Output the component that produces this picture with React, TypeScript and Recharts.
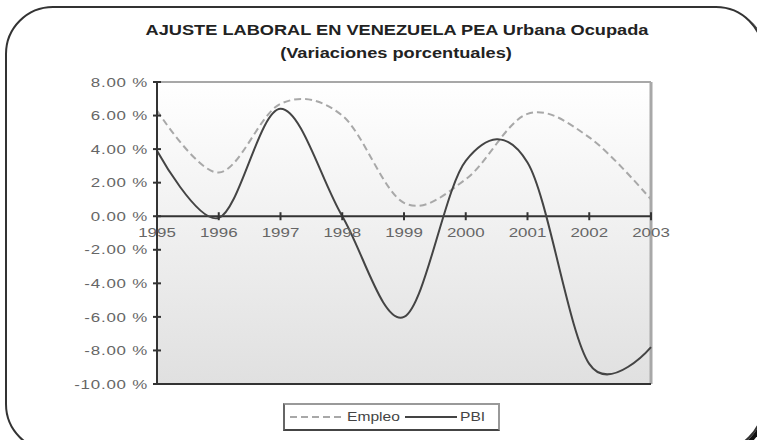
import {
  CartesianGrid,
  Line,
  LineChart,
  ReferenceDot,
  ReferenceLine,
  XAxis,
  YAxis,
} from "recharts";

const years = [1995, 1996, 1997, 1998, 1999, 2000, 2001, 2002, 2003];
const empleo = [6.3, 2.6, 6.7, 6.0, 0.8, 2.2, 6.1, 4.7, 1.0];
const pbi = [3.9, -0.1, 6.4, 0.0, -6.0, 3.3, 3.2, -8.8, -7.8];
const yTicks = [-10, -8, -6, -4, -2, 0, 2, 4, 6, 8];

const data = years.map((year, i) => ({ year, empleo: empleo[i], pbi: pbi[i] }));

const FONT = '"Liberation Sans", Arial, sans-serif';
const STRETCH = 1.3;

// Excel-like smoothing (catmull-rom / cardinal with tension 0)
function smoothCurve(context: any) {
  const k = 1 / 6;
  let x0 = NaN, y0 = NaN, x1 = NaN, y1 = NaN, x2 = NaN, y2 = NaN;
  let pt = 0;
  let line = NaN;
  const bez = (x: number, y: number) => {
    context.bezierCurveTo(
      x1 + k * (x2 - x0),
      y1 + k * (y2 - y0),
      x2 + k * (x1 - x),
      y2 + k * (y1 - y),
      x2,
      y2
    );
  };
  return {
    areaStart() {
      line = 0;
    },
    areaEnd() {
      line = NaN;
    },
    lineStart() {
      x0 = x1 = x2 = y0 = y1 = y2 = NaN;
      pt = 0;
    },
    lineEnd() {
      if (pt === 2) context.lineTo(x2, y2);
      else if (pt === 3) bez(x1, y1);
      if (line || (line !== 0 && pt === 1)) context.closePath();
      line = 1 - line;
    },
    point(x: number, y: number) {
      x = +x;
      y = +y;
      switch (pt) {
        case 0:
          pt = 1;
          if (line) context.lineTo(x, y);
          else context.moveTo(x, y);
          break;
        case 1:
          pt = 2;
          x1 = x;
          y1 = y;
          break;
        case 2:
          pt = 3;
          bez(x, y);
          break;
        default:
          bez(x, y);
          break;
      }
      x0 = x1;
      x1 = x2;
      x2 = x;
      y0 = y1;
      y1 = y2;
      y2 = y;
    },
  };
}

const pct = (v: number) => `${v.toFixed(2)} %`;

function YTick(props: any) {
  const { x, y, payload } = props;
  return (
    <g>
      <line x1={x - 4} x2={x + 4} y1={y} y2={y} stroke="#333" strokeWidth={2} />
      <text
        transform={`translate(${x - 9},${y}) scale(${STRETCH},1)`}
        textAnchor="end"
        dy="0.36em"
        fontSize={13}
        fontFamily={FONT}
        fill="#666"
        letterSpacing={0.6}
      >
        {pct(payload.value)}
      </text>
    </g>
  );
}

function YearMark(props: any) {
  const { cx, cy, label } = props;
  return (
    <g>
      <line x1={cx} x2={cx} y1={cy - 4} y2={cy + 4} stroke="#333" strokeWidth={2} />
      <text
        transform={`translate(${cx},${cy + 16}) scale(${STRETCH},1)`}
        textAnchor="middle"
        dy="0.36em"
        fontSize={13}
        fontFamily={FONT}
        fill="#666"
      >
        {label}
      </text>
    </g>
  );
}

export default function App() {
  return (
    <div
      style={{
        position: "absolute",
        left: 0,
        top: 0,
        width: 757,
        height: 440,
        overflow: "hidden",
        background: "#fff",
        fontFamily: FONT,
      }}
    >
      <div
        style={{
          position: "absolute",
          left: 5,
          top: 6,
          width: 759,
          height: 446,
          boxSizing: "border-box",
          border: "2px solid #333",
          borderRadius: 48,
          boxShadow: "3px 3px 0 #111",
        }}
      />
      <div
        style={{
          position: "absolute",
          left: 397,
          top: 22,
          transform: `translateX(-50%) scaleX(${STRETCH})`,
          whiteSpace: "nowrap",
          fontWeight: "bold",
          fontSize: 14,
          lineHeight: "16px",
          color: "#222",
        }}
      >
        AJUSTE LABORAL EN VENEZUELA PEA Urbana Ocupada
      </div>
      <div
        style={{
          position: "absolute",
          left: 396,
          top: 45,
          transform: `translateX(-50%) scaleX(${STRETCH})`,
          whiteSpace: "nowrap",
          fontWeight: "bold",
          fontSize: 14,
          lineHeight: "16px",
          color: "#222",
        }}
      >
        (Variaciones porcentuales)
      </div>

      <div style={{ position: "absolute", left: 0, top: 0 }}>
        <LineChart
          width={757}
          height={440}
          data={data}
          margin={{ top: 82, right: 106, bottom: 56, left: 0 }}
        >
          <defs>
            <linearGradient id="plotBg" x1="0" y1="0" x2="0" y2="1">
              <stop offset="0%" stopColor="#ffffff" />
              <stop offset="100%" stopColor="#e0e0e0" />
            </linearGradient>
          </defs>
          <CartesianGrid horizontal={false} vertical={false} fill="url(#plotBg)" stroke="none" />
          <XAxis dataKey="year" type="number" domain={[1995, 2003]} hide />
          <YAxis
            width={157}
            domain={[-10, 8]}
            ticks={yTicks}
            interval={0}
            tickSize={0}
            tickMargin={0}
            tickLine={false}
            axisLine={{ stroke: "#333", strokeWidth: 2 }}
            tick={<YTick />}
          />
          <ReferenceLine y={8} stroke="#a8a8a8" strokeWidth={2} />
          <ReferenceLine x={2003} stroke="#a8a8a8" strokeWidth={3} />
          <ReferenceLine y={-10} stroke="#333" strokeWidth={2} />
          <ReferenceLine y={0} stroke="#333" strokeWidth={2} />
          {years.map((yr) => (
            <ReferenceDot
              key={yr}
              x={yr}
              y={0}
              r={0}
              shape={(p: any) => <YearMark {...p} label={String(yr)} />}
            />
          ))}
          <Line
            type={smoothCurve as any}
            dataKey="empleo"
            stroke="#a8a8a8"
            strokeWidth={2}
            strokeDasharray="7 4"
            dot={false}
            activeDot={false}
            isAnimationActive={false}
          />
          <Line
            type={smoothCurve as any}
            dataKey="pbi"
            stroke="#444"
            strokeWidth={2}
            dot={false}
            activeDot={false}
            isAnimationActive={false}
          />
        </LineChart>
      </div>

      <div
        style={{
          position: "absolute",
          left: 283,
          top: 403,
          width: 217,
          height: 28,
          boxSizing: "border-box",
          border: "2px solid #999",
          borderBottomColor: "#444",
          borderLeftColor: "#666",
          background: "#fff",
        }}
      >
        <svg width={213} height={24} style={{ display: "block" }}>
          <line x1={5} x2={60} y1={12} y2={12} stroke="#a8a8a8" strokeWidth={2} strokeDasharray="7 4" />
          <text
            transform={`translate(62,12) scale(${STRETCH},1)`}
            dy="0.36em"
            fontSize={12}
            fontFamily={FONT}
            fill="#444"
          >
            Empleo
          </text>
          <line x1={120} x2={172} y1={12} y2={12} stroke="#444" strokeWidth={2} />
          <text
            transform={`translate(175,12) scale(${STRETCH},1)`}
            dy="0.36em"
            fontSize={12}
            fontFamily={FONT}
            fill="#444"
          >
            PBI
          </text>
        </svg>
      </div>
    </div>
  );
}
